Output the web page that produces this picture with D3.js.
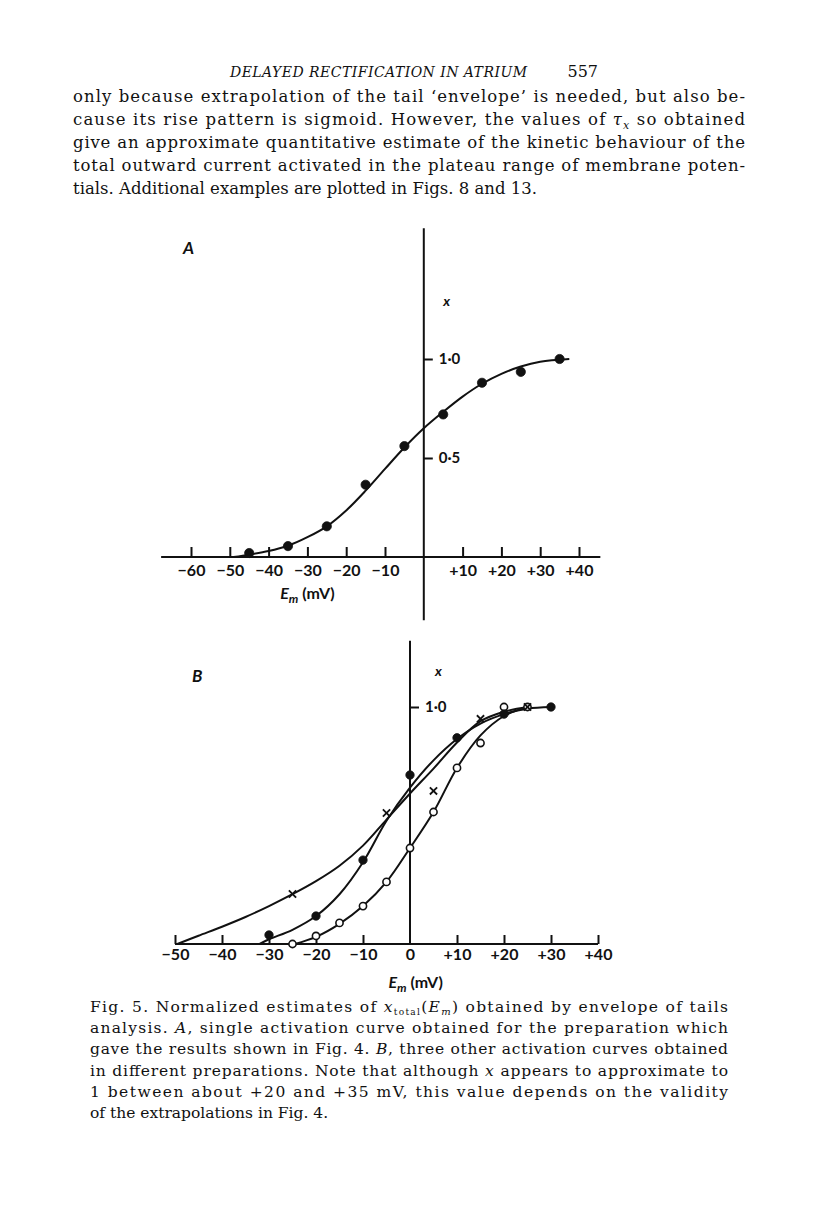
<!DOCTYPE html>
<html>
<head>
<meta charset="utf-8">
<script src="https://cdn.jsdelivr.net/npm/d3@7"></script>
<style>
  body { margin: 0; background: #fff; }
  svg text { fill: #111; }
</style>
</head>
<body>
<div id="page"></div>
<script>
// ---- panel A: single activation curve ----
const emA = [-45, -35, -25, -15, -5, 5, 15, 25, 35];
const xA = [0.02, 0.055, 0.155, 0.365, 0.56, 0.72, 0.88, 0.935, 1.0];
// hand drawn fit through the points
const curveAEm = [-49, -45, -40, -35, -30, -25, -20, -15, -10, -5, 0, 5, 10, 15, 20, 25, 30, 37.5];
const curveAX = [0, 0.012, 0.03, 0.057, 0.1, 0.155, 0.235, 0.335, 0.445, 0.553, 0.65, 0.733, 0.81, 0.875, 0.925, 0.962, 0.986, 1.0];
const ticksA = [-60, -50, -40, -30, -20, -10, 10, 20, 30, 40];

// ---- panel B: three other preparations ----
const emBFilled = [-30, -20, -10, 0, 10, 20, 30];
const xBFilled = [0.038, 0.118, 0.354, 0.713, 0.87, 0.97, 1.0];
const emBOpen = [-25, -20, -15, -10, -5, 0, 5, 10, 15, 20, 25];
const xBOpen = [0, 0.034, 0.089, 0.16, 0.262, 0.405, 0.557, 0.743, 0.848, 1.0, 1.0];
const emBCross = [-25, -5, 5, 15, 25];
const xBCross = [0.211, 0.553, 0.646, 0.95, 1.0];

const curveBFilledEm = [-32, -30, -25, -20, -15, -10, -5, 0, 5, 10, 15, 20, 25, 30];
const curveBFilledX = [0, 0.02, 0.06, 0.118, 0.21, 0.345, 0.52, 0.66, 0.775, 0.865, 0.93, 0.97, 0.993, 1.0];
const curveBOpenEm = [-24.5, -20, -15, -10, -5, 0, 5, 10, 15, 20, 25];
const curveBOpenX = [0, 0.03, 0.085, 0.16, 0.262, 0.405, 0.557, 0.743, 0.88, 0.962, 1.0];
const curveBCrossEm = [-49.5, -45, -40, -35, -30, -25, -20, -15, -10, -5, 0, 5, 10, 15, 20, 25];
const curveBCrossX = [0, 0.035, 0.073, 0.114, 0.16, 0.21, 0.265, 0.33, 0.415, 0.525, 0.635, 0.74, 0.85, 0.94, 0.98, 1.0];
const ticksB = [-50, -40, -30, -20, -10, 0, 10, 20, 30, 40];

// ---- page text ----
const bodyLines = [
  "only because extrapolation of the tail \u2018envelope\u2019 is needed, but also be-",
  "cause its rise pattern is sigmoid. However, the values of \u03C4x so obtained",
  "give an approximate quantitative estimate of the kinetic behaviour of the",
  "total outward current activated in the plateau range of membrane poten-",
  "tials. Additional examples are plotted in Figs. 8 and 13."
];

const width = 816, height = 1219;
const svg = d3.select("#page").append("svg")
  .attr("width", width)
  .attr("height", height);

const serif = "'DejaVu Serif', 'Liberation Serif', serif";
const sans = "Lato, 'Open Sans', sans-serif";

// running head
svg.append("text")
  .attr("x", 230).attr("y", 77)
  .attr("font-family", serif).attr("font-style", "italic")
  .attr("font-size", 14)
  .attr("textLength", 297).attr("lengthAdjust", "spacing")
  .text("DELAYED RECTIFICATION IN ATRIUM");
svg.append("text")
  .attr("x", 598).attr("y", 77)
  .attr("text-anchor", "end")
  .attr("font-family", serif).attr("font-size", 16)
  .text("557");

// body paragraph, justified except last line
bodyLines.forEach((line, i) => {
  const t = svg.append("text")
    .attr("x", 73).attr("y", 102 + i * 23)
    .attr("font-family", serif).attr("font-size", 16.5);
  if (i < bodyLines.length - 1) t.attr("textLength", 672).attr("lengthAdjust", "spacing");
  if (i === 1) {
    t.append("tspan").text("cause its rise pattern is sigmoid. However, the values of ");
    t.append("tspan").attr("font-style", "italic").text("\u03C4");
    t.append("tspan").attr("font-style", "italic").attr("font-size", 11).attr("dy", 4).text("x");
    t.append("tspan").attr("dy", -4).text(" so obtained");
  } else {
    t.text(line);
  }
});

// ---------- shared helpers ----------
const fmtMv = d => d === 0 ? "0" : (d < 0 ? "\u2212" + (-d) : "+" + d);

function markers(g, xs, ys, sx, sy, kind, r) {
  const pts = xs.map((e, i) => ({e: e, v: ys[i]}));
  if (kind === "cross") {
    const c = g.append("g").selectAll("g").data(pts).join("g")
      .attr("transform", d => `translate(${sx(d.e)},${sy(d.v)})`);
    c.append("line").attr("x1", -r).attr("y1", -r).attr("x2", r).attr("y2", r);
    c.append("line").attr("x1", -r).attr("y1", r).attr("x2", r).attr("y2", -r);
    c.selectAll("line").attr("stroke", "#111").attr("stroke-width", 1.8);
  } else {
    g.append("g").selectAll("circle").data(pts).join("circle")
      .attr("cx", d => sx(d.e)).attr("cy", d => sy(d.v))
      .attr("r", r)
      .attr("fill", kind === "open" ? "#fff" : "#111")
      .attr("stroke", "#111")
      .attr("stroke-width", kind === "open" ? 1.6 : 0.8);
  }
}

function curve(g, xs, ys, sx, sy) {
  const line = d3.line()
    .x(d => sx(d[0])).y(d => sy(d[1]))
    .curve(d3.curveCatmullRom.alpha(0.5));
  g.append("path")
    .attr("d", line(xs.map((e, i) => [e, ys[i]])))
    .attr("fill", "none")
    .attr("stroke", "#111")
    .attr("stroke-width", 2);
}

function emLabel(g, x, y) {
  const t = g.append("text")
    .attr("x", x).attr("y", y)
    .attr("text-anchor", "middle")
    .attr("font-family", sans).attr("font-weight", 700).attr("font-size", 16);
  t.append("tspan").attr("font-style", "italic").text("E");
  t.append("tspan").attr("font-style", "italic").attr("font-size", 12).attr("dy", 4).text("m");
  t.append("tspan").attr("dy", -4).text(" (mV)");
}

function styleAxis(ax) {
  ax.select(".domain").remove();
  ax.selectAll(".tick line").attr("stroke", "#111").attr("stroke-width", 2);
  ax.selectAll(".tick text")
    .attr("font-family", sans).attr("font-weight", 700)
    .attr("font-size", 16).attr("fill", "#111");
}

// ---------- panel A ----------
const sxA = d3.scaleLinear().domain([-60, 40]).range([191, 579]);
const syA = d3.scaleLinear().domain([0, 1]).range([557, 359]);
const gA = svg.append("g");

gA.append("line")
  .attr("x1", sxA(-67.7)).attr("x2", sxA(45.5))
  .attr("y1", syA(0)).attr("y2", syA(0))
  .attr("stroke", "#111").attr("stroke-width", 2);
gA.append("line")
  .attr("x1", sxA(0)).attr("x2", sxA(0))
  .attr("y1", syA(1.66)).attr("y2", syA(-0.32))
  .attr("stroke", "#111").attr("stroke-width", 2);

const axA = gA.append("g")
  .attr("transform", `translate(0,${syA(0)})`)
  .call(d3.axisBottom(sxA).tickValues(ticksA).tickFormat(fmtMv)
    .tickSizeInner(-10).tickSizeOuter(0).tickPadding(8));
styleAxis(axA);

const ayA = gA.append("g")
  .attr("transform", `translate(${sxA(0)},0)`)
  .call(d3.axisRight(syA).tickValues([0.5, 1])
    .tickFormat(d => d === 1 ? "1\u00B70" : "0\u00B75")
    .tickSize(9).tickPadding(6));
styleAxis(ayA);
ayA.selectAll(".tick text").attr("font-size", 15);

gA.append("text")
  .attr("x", sxA(5)).attr("y", syA(1.27))
  .attr("font-family", sans).attr("font-style", "italic").attr("font-weight", 700)
  .attr("font-size", 14).text("x");
gA.append("text")
  .attr("x", 183).attr("y", 254)
  .attr("font-family", sans).attr("font-style", "italic").attr("font-weight", 700)
  .attr("font-size", 17).text("A");
emLabel(gA, sxA(-30), 599);

curve(gA, curveAEm, curveAX, sxA, syA);
markers(gA, emA, xA, sxA, syA, "filled", 4.6);

// ---------- panel B ----------
const sxB = d3.scaleLinear().domain([-50, 40]).range([175, 598]);
const syB = d3.scaleLinear().domain([0, 1]).range([944, 707]);
const gB = svg.append("g");

gB.append("line")
  .attr("x1", sxB(-50)).attr("x2", sxB(40))
  .attr("y1", syB(0)).attr("y2", syB(0))
  .attr("stroke", "#111").attr("stroke-width", 2);
gB.append("line")
  .attr("x1", sxB(0)).attr("x2", sxB(0))
  .attr("y1", syB(1.28)).attr("y2", syB(0))
  .attr("stroke", "#111").attr("stroke-width", 2);

const axB = gB.append("g")
  .attr("transform", `translate(0,${syB(0)})`)
  .call(d3.axisBottom(sxB).tickValues(ticksB).tickFormat(fmtMv)
    .tickSizeInner(-9).tickSizeOuter(0).tickPadding(5));
styleAxis(axB);
axB.selectAll(".tick").filter(d => d === 0).select("line").remove();

const ayB = gB.append("g")
  .attr("transform", `translate(${sxB(0)},0)`)
  .call(d3.axisRight(syB).tickValues([1])
    .tickFormat(() => "1\u00B70")
    .tickSize(9).tickPadding(6));
styleAxis(ayB);
ayB.selectAll(".tick text").attr("font-size", 15);

gB.append("text")
  .attr("x", sxB(5.3)).attr("y", syB(1.13))
  .attr("font-family", sans).attr("font-style", "italic").attr("font-weight", 700)
  .attr("font-size", 14).text("x");
gB.append("text")
  .attr("x", 192).attr("y", 682)
  .attr("font-family", sans).attr("font-style", "italic").attr("font-weight", 700)
  .attr("font-size", 17).text("B");
emLabel(gB, sxB(1.2), 988);

curve(gB, curveBCrossEm, curveBCrossX, sxB, syB);
curve(gB, curveBFilledEm, curveBFilledX, sxB, syB);
curve(gB, curveBOpenEm, curveBOpenX, sxB, syB);
markers(gB, emBOpen, xBOpen, sxB, syB, "open", 3.6);
markers(gB, emBFilled, xBFilled, sxB, syB, "filled", 4.2);
markers(gB, emBCross, xBCross, sxB, syB, "cross", 3.6);

// ---------- caption ----------
function capLine(i, justify) {
  const t = svg.append("text")
    .attr("x", 90).attr("y", 1012 + i * 21.2)
    .attr("font-family", serif).attr("font-size", 15.5);
  if (justify) t.attr("textLength", 638).attr("lengthAdjust", "spacing");
  return t;
}
let c = capLine(0, true);
c.append("tspan").text("Fig. 5. Normalized estimates of ");
c.append("tspan").attr("font-style", "italic").text("x");
c.append("tspan").attr("font-size", 9).attr("dy", 3).text("total");
c.append("tspan").attr("dy", -3).text("(");
c.append("tspan").attr("font-style", "italic").text("E");
c.append("tspan").attr("font-style", "italic").attr("font-size", 10).attr("dy", 3).text("m");
c.append("tspan").attr("dy", -3).text(") obtained by envelope of tails");

c = capLine(1, true);
c.append("tspan").text("analysis. ");
c.append("tspan").attr("font-style", "italic").text("A");
c.append("tspan").text(", single activation curve obtained for the preparation which");

c = capLine(2, true);
c.append("tspan").text("gave the results shown in Fig. 4. ");
c.append("tspan").attr("font-style", "italic").text("B");
c.append("tspan").text(", three other activation curves obtained");

c = capLine(3, true);
c.append("tspan").text("in different preparations. Note that although ");
c.append("tspan").attr("font-style", "italic").text("x");
c.append("tspan").text(" appears to approximate to");

capLine(4, true).text("1 between about +20 and +35 mV, this value depends on the validity");
capLine(5, false).text("of the extrapolations in Fig. 4.");
</script>
</body>
</html>
